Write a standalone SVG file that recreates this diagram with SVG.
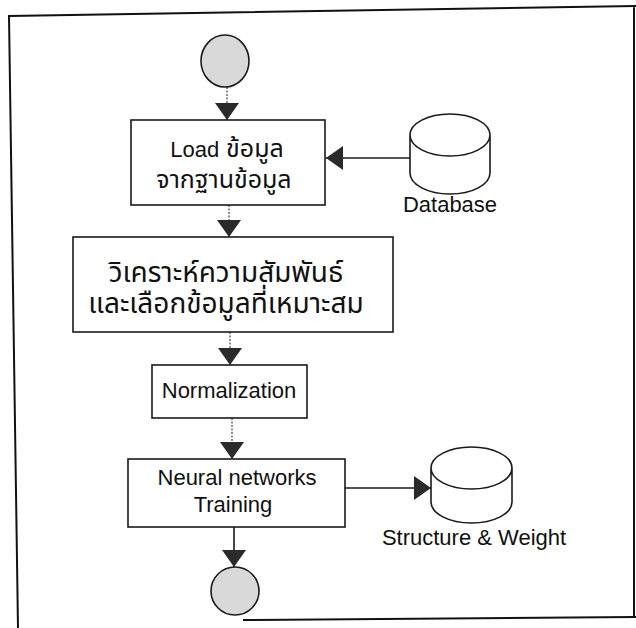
<svg xmlns="http://www.w3.org/2000/svg" width="636" height="628" viewBox="0 0 636 628">
<defs>
<style>
.box{fill:#fff;stroke:#1a1a1a;stroke-width:1.6}
.term{fill:#d9d9d9;stroke:#1a1a1a;stroke-width:1.6}
.cyl{fill:#fff;stroke:#1a1a1a;stroke-width:1.6}
.lbl{font-family:"Liberation Sans",Arial,sans-serif;font-size:22px;fill:#111;text-anchor:middle}
.th{font-family:"Liberation Sans","Noto Sans Thai","Noto Sans",sans-serif;fill:#111;text-anchor:middle}
.dot{fill:none;stroke:#444;stroke-width:1.2;stroke-dasharray:2 1.5}
.sol{fill:none;stroke:#1a1a1a;stroke-width:1.6}
.frame{fill:none;stroke:#111;stroke-width:2}
</style>
<marker id="ah" markerUnits="userSpaceOnUse" markerWidth="18" markerHeight="24" refX="17" refY="12" orient="auto" viewBox="0 0 18 24">
<path d="M0,0 L17,12 L0,24 Z" fill="#2a2a2a"/>
</marker>
</defs>
<rect width="636" height="628" fill="#fff"/>
<path class="frame" d="M18,628 L9,16 L636,6 M634,6 L634,618 M243,620 L636,617"/>

<g id="connectors">
<path class="dot" d="M227,87 L227,120" marker-end="url(#ah)"/>
<path class="sol" d="M410,158 L326,158" marker-end="url(#ah)"/>
<path class="dot" d="M229,205 L229,237" marker-end="url(#ah)"/>
<path class="dot" d="M230,332 L230,365" marker-end="url(#ah)"/>
<path class="dot" d="M232,418 L232,459" marker-end="url(#ah)"/>
<path class="sol" d="M345,488 L431,488" marker-end="url(#ah)"/>
<path class="sol" d="M234,527 L234,567" marker-end="url(#ah)"/>
</g>

<g id="start">
<ellipse class="term" cx="225" cy="61" rx="24" ry="26"/>
</g>

<g id="load">
<rect class="box" x="131" y="120" width="194" height="85"/>
<text class="th" x="227" y="157" font-size="25"><tspan font-size="22">Load</tspan> ข้อมูล</text>
<text class="th" x="224" y="188" font-size="25">จากฐานข้อมูล</text>
</g>

<g id="database">
<path class="cyl" d="M410,135 A40,21 0 0 1 490,135 L490,173 A40,21 0 0 1 410,173 Z M410,135 A40,21 0 0 0 490,135"/>
<text class="lbl" x="450" y="212">Database</text>
</g>

<g id="analysis">
<rect class="box" x="73" y="237" width="320" height="95"/>
<text class="th" x="226" y="282" font-size="28">วิเคราะห์ความสัมพันธ์</text>
<text class="th" x="226" y="313" font-size="28">และเลือกข้อมูลที่เหมาะสม</text>
</g>

<g id="normalization">
<rect class="box" x="152" y="365" width="155" height="53"/>
<text class="lbl" x="229" y="398" font-size="23">Normalization</text>
</g>

<g id="training">
<rect class="box" x="128" y="459" width="217" height="68"/>
<text class="lbl" x="237" y="485" font-size="23">Neural networks</text>
<text class="lbl" x="233" y="512" font-size="23">Training</text>
</g>

<g id="structure">
<path class="cyl" d="M431,468 A40.5,21 0 0 1 512,468 L512,502 A40.5,21 0 0 1 431,502 Z M431,468 A40.5,21 0 0 0 512,468"/>
<text class="lbl" x="474" y="545" font-size="23">Structure &amp; Weight</text>
</g>

<g id="end">
<ellipse class="term" cx="235" cy="591" rx="24" ry="24"/>
</g>
</svg>
